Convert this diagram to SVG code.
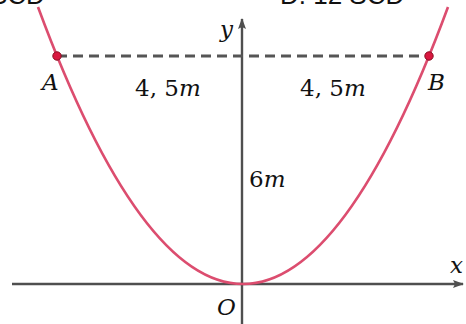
<svg xmlns="http://www.w3.org/2000/svg" width="466" height="324" viewBox="0 0 466 324">
<style>
.ax{stroke:#4f4f4f;stroke-width:2.4;fill:none}
.curve{stroke:#dc4d6f;stroke-width:2.6;fill:none}
.dash{stroke:#555;stroke-width:3;stroke-dasharray:10 6;fill:none}
.pt{fill:#d9173f;stroke:#8a0f22;stroke-width:1}
.lbl{font-family:'DejaVu Serif',serif;font-size:23px;fill:#111}
.it{font-style:italic}
.top{font-family:'Liberation Sans',Arial,sans-serif;font-size:26px;fill:#111}
</style>
<defs>
<marker id="arr" markerWidth="12" markerHeight="10" refX="10" refY="4" orient="auto" markerUnits="userSpaceOnUse">
<path d="M0,0 L11,4 L0,8 L2,4 Z" fill="#4f4f4f"/>
</marker>
</defs>
<rect width="466" height="324" fill="#fff"/>
<text class="top" x="-10" y="4">SCD</text>
<text class="top" x="280" y="4">D. 12 SCD</text>
<g id="connectors">
<line class="ax" x1="12" y1="284" x2="463" y2="284" marker-end="url(#arr)"/>
<line class="ax" x1="242" y1="324" x2="242" y2="19" marker-end="url(#arr)"/>
<path class="dash" d="M57,56 L429,56"/>
<path class="curve" d="M38,7 Q243,561 448,7"/>
</g>
<g id="A"><circle class="pt" cx="57" cy="56" r="4.2"/><text class="lbl it" x="42" y="90">A</text></g>
<g id="B"><circle class="pt" cx="429" cy="56" r="4.2"/><text class="lbl it" x="428" y="90">B</text></g>
<g id="O"><text class="lbl it" x="217" y="315">O</text></g>
<g id="xlabel"><text class="lbl it" x="450" y="273">x</text></g>
<g id="ylabel"><text class="lbl it" x="220" y="37">y</text></g>
<g id="d1"><text class="lbl" x="135" y="96">4, 5<tspan class="it">m</tspan></text></g>
<g id="d2"><text class="lbl" x="300" y="96">4, 5<tspan class="it">m</tspan></text></g>
<g id="h"><text class="lbl" x="249" y="187">6<tspan class="it">m</tspan></text></g>
</svg>
